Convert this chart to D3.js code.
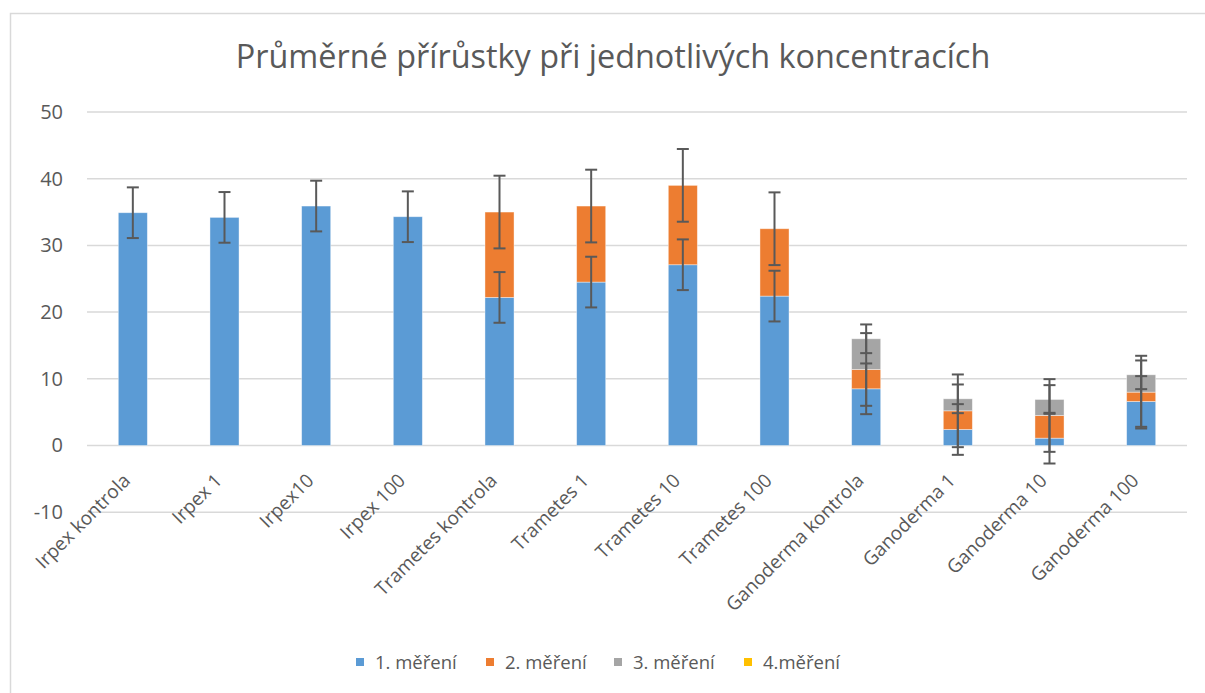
<!DOCTYPE html>
<html>
<head>
<meta charset="utf-8">
<script src="https://cdn.jsdelivr.net/npm/d3@7"></script>
<style>
  body { margin: 0; background: #fff; }
  text { font-family: "Open Sans", Lato, sans-serif; fill: #595959; }
</style>
</head>
<body>
<div id="chart"></div>
<script>
// Data
const categories = ["Irpex kontrola", "Irpex 1", "Irpex10", "Irpex 100",
  "Trametes kontrola", "Trametes 1", "Trametes 10", "Trametes 100",
  "Ganoderma kontrola", "Ganoderma 1", "Ganoderma 10", "Ganoderma 100"];
const seriesNames = ["1. měření", "2. měření", "3. měření", "4.měření"];
const mereni1 = [34.9, 34.2, 35.9, 34.3, 22.2, 24.5, 27.1, 22.4, 8.5, 2.4, 1.1, 6.6];
const mereni2 = [0, 0, 0, 0, 12.8, 11.4, 11.9, 10.1, 2.9, 2.8, 3.4, 1.4];
const mereni3 = [0, 0, 0, 0, 0, 0, 0, 0, 4.6, 1.8, 2.4, 2.6];
const mereni4 = [0, 0, 0, 0, 0, 0, 0, 0, 0, 0, 0, 0];
const chyba1 = [3.8, 3.8, 3.8, 3.8, 3.8, 3.8, 3.8, 3.8, 3.8, 3.8, 3.8, 3.8];
const chyba2 = [null, null, null, null, 5.45, 5.45, 5.45, 5.45, 5.45, 5.45, 5.45, 5.45];
const chyba3 = [null, null, null, null, null, null, null, null, 2.15, 2.15, 2.15, 2.15];
const chyba4 = [null, null, null, null, null, null, null, null, null, null, null, null];
const yTicks = [-10, 0, 10, 20, 30, 40, 50];

const colors = ["#5B9BD5", "#ED7D31", "#A5A5A5", "#FFC000"];
const values = [mereni1, mereni2, mereni3, mereni4];
const errors = [chyba1, chyba2, chyba3, chyba4];

const W = 1205, H = 693;
const svg = d3.select("#chart").append("svg")
    .attr("width", W)
    .attr("height", H);

// chart area border
svg.append("rect")
   .attr("x", 10.5).attr("y", 13.5)
   .attr("width", W + 20).attr("height", H + 20)
   .attr("fill", "white")
   .attr("stroke", "#D9D9D9")
   .attr("stroke-width", 1.5);

const left = 87, right = 1187;

const x = d3.scaleBand()
    .domain(categories)
    .range([left, right])
    .paddingInner(0.683)
    .paddingOuter(0.3415);

const y = d3.scaleLinear()
    .domain([-10, 50])
    .range([512.2, 112]);

// gridlines
svg.append("g")
   .selectAll("line")
   .data(yTicks)
   .join("line")
   .attr("x1", left).attr("x2", right)
   .attr("y1", d => y(d)).attr("y2", d => y(d))
   .attr("stroke", "#D9D9D9")
   .attr("stroke-width", 1.5);

// y axis labels
const yAxis = svg.append("g")
   .attr("transform", `translate(${left},0)`)
   .call(d3.axisLeft(y).tickValues(yTicks).tickFormat(d => String(d)).tickSize(0).tickPadding(24));
yAxis.select(".domain").remove();
yAxis.selectAll("text")
   .attr("font-size", 20)
   .attr("fill", "#595959")
   .style("font-family", "'Open Sans', sans-serif");

// stacked data
const rows = categories.map((c, i) => {
    const r = { cat: c };
    seriesNames.forEach((s, k) => r[s] = values[k][i]);
    return r;
});
const stacked = d3.stack().keys(seriesNames)(rows);

stacked.forEach((layer, k) => {
    svg.append("g")
       .selectAll("rect")
       .data(layer)
       .join("rect")
       .attr("x", d => x(d.data.cat))
       .attr("y", d => y(d[1]))
       .attr("width", x.bandwidth())
       .attr("height", d => y(d[0]) - y(d[1]))
       .attr("fill", colors[k])
       .attr("stroke", "white")
       .attr("stroke-opacity", 0.5)
       .attr("stroke-width", 0.8);
});

// error bars
const capW = 12;
stacked.forEach((layer, k) => {
    const pts = layer.map((d, i) => ({ cat: d.data.cat, top: d[1], v: values[k][i], e: errors[k][i] }))
                     .filter(d => d.v && d.e != null);
    const g = svg.append("g")
                 .attr("stroke", "#595959")
                 .attr("stroke-width", 2);
    pts.forEach(d => {
        const cx = x(d.cat) + x.bandwidth() / 2;
        g.append("line")
         .attr("x1", cx).attr("x2", cx)
         .attr("y1", y(d.top + d.e)).attr("y2", y(d.top - d.e));
        [d.top + d.e, d.top - d.e].forEach(v => {
            g.append("line")
             .attr("x1", cx - capW / 2).attr("x2", cx + capW / 2)
             .attr("y1", y(v)).attr("y2", y(v));
        });
    });
});

// category labels (rotated)
svg.append("g")
   .selectAll("text")
   .data(categories)
   .join("text")
   .attr("transform", d => `translate(${x(d) + x.bandwidth() / 2 - 6},${477}) rotate(-45)`)
   .attr("text-anchor", "end")
   .attr("dy", "0.35em")
   .attr("font-size", 19)
   .text(d => d);

// title
svg.append("text")
   .attr("x", 613)
   .attr("y", 68)
   .attr("text-anchor", "middle")
   .attr("font-size", 32.4)
   .text("Průměrné přírůstky při jednotlivých koncentracích");

// legend
const legendX = [356, 486, 614, 744];
const legend = svg.append("g");
seriesNames.forEach((s, k) => {
    legend.append("rect")
          .attr("x", legendX[k]).attr("y", 658)
          .attr("width", 8).attr("height", 8)
          .attr("fill", colors[k]);
    legend.append("text")
          .attr("x", legendX[k] + 19)
          .attr("y", 669)
          .attr("font-size", 18.5)
          .text(s);
});
</script>
</body>
</html>
